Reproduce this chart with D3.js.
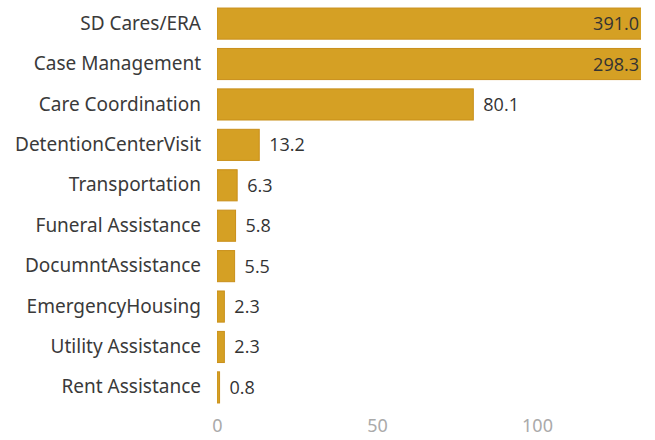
<!DOCTYPE html>
<html>
<head>
<meta charset="utf-8">
<script src="https://cdn.jsdelivr.net/npm/d3@7"></script>
<style>
  body { margin: 0; background: #fff; }
</style>
</head>
<body>
<div id="chart"></div>
<script>
var categories = ["SD Cares/ERA", "Case Management", "Care Coordination", "DetentionCenterVisit",
    "Transportation", "Funeral Assistance", "DocumntAssistance", "EmergencyHousing",
    "Utility Assistance", "Rent Assistance"];
var values = [391.0, 298.3, 80.1, 13.2, 6.3, 5.8, 5.5, 2.3, 2.3, 0.8];
var xTicks = [0, 50, 100];

var data = categories.map(function(c, i) { return {name: c, value: values[i]}; });

var margin = {top: 4, right: 14, bottom: 33, left: 217},
    width = 655 - margin.left - margin.right,
    height = 440 - margin.top - margin.bottom;

var svg = d3.select("#chart")
    .append("svg")
    .attr("width", 655)
    .attr("height", 440)
    .append("g")
    .attr("transform", "translate(" + margin.left + "," + margin.top + ")");

// x scale: visible window is cut at ~132.5, bigger bars get clipped
var x = d3.scaleLinear()
    .domain([0, 132.5])
    .range([0, width]);

var y = d3.scaleBand()
    .domain(categories)
    .range([0, height])
    .paddingInner(0.23)
    .paddingOuter(0.1);

svg.append("clipPath")
    .attr("id", "clip")
    .append("rect")
    .attr("x", 0).attr("y", -5)
    .attr("width", width).attr("height", height + 10);

// category labels
var yAxis = svg.append("g")
    .call(d3.axisLeft(y).tickSize(0).tickPadding(16));
yAxis.select(".domain").remove();
yAxis.selectAll("text")
    .style("font-family", "'Noto Sans', sans-serif")
    .style("font-size", "19px")
    .attr("fill", "#3a3a3a");

// x axis
var xAxis = svg.append("g")
    .attr("transform", "translate(0," + (height + 2) + ")")
    .call(d3.axisBottom(x).tickValues(xTicks).tickSize(0).tickPadding(10));
xAxis.select(".domain").remove();
xAxis.selectAll("text")
    .style("font-family", "'Noto Sans', sans-serif")
    .style("font-size", "18px")
    .attr("fill", "#aaa");

// bars
svg.append("g")
    .attr("clip-path", "url(#clip)")
    .selectAll("rect")
    .data(data)
    .enter()
    .append("rect")
    .attr("x", x(0))
    .attr("y", function(d) { return y(d.name); })
    .attr("width", function(d) { return Math.max(x(d.value) - x(0), 2); })
    .attr("height", y.bandwidth())
    .attr("fill", "#d5a024")
    .attr("stroke", "#c98f1a")
    .attr("stroke-width", 1);

// value labels
svg.selectAll(".val")
    .data(data)
    .enter()
    .append("text")
    .attr("class", "val")
    .attr("x", function(d) {
        return x(d.value) > width ? width - 2 : x(d.value) + 10;
    })
    .attr("y", function(d) { return y(d.name) + y.bandwidth() / 2; })
    .attr("dy", "0.36em")
    .attr("text-anchor", function(d) { return x(d.value) > width ? "end" : "start"; })
    .style("font-family", "'Open Sans', sans-serif")
    .style("font-size", "18px")
    .attr("fill", "#333")
    .text(function(d) { return d.value.toFixed(1); });
</script>
</body>
</html>
